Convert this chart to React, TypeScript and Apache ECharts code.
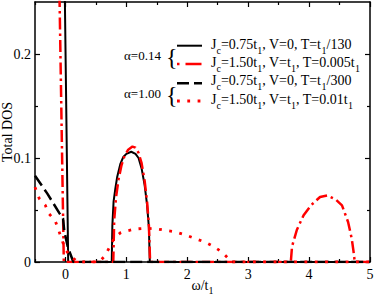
import React, { useEffect, useRef } from 'react';
import * as echarts from 'echarts';

const FONT = '"Liberation Serif", "DejaVu Serif", serif';

const xMin = -0.5;
const xMax = 5;
const yMin = 0;
const yMax = 0.25;
const xMajorTicks = [0, 1, 2, 3, 4, 5];
const xMinorTicks = [-0.5, 0.5, 1.5, 2.5, 3.5, 4.5];
const yMajorTicks = [0, 0.1, 0.2];
const yMinorTicks = [0.05, 0.15];

const alphaLabels = ['α=0.14', 'α=1.00'];
const seriesNames = [
  'Jc=0.75t1, V=0, T=t1/130',
  'Jc=1.50t1, V=t1, T=0.005t1',
  'Jc=0.75t1, V=0, T=t1/300',
  'Jc=1.50t1, V=t1, T=0.01t1',
];
const legendRichTexts = [
  '{m|J}{s|c}{m|=0.75t}{s|1}{m|, V=0, T=t}{s|1}{m|/130}',
  '{m|J}{s|c}{m|=1.50t}{s|1}{m|, V=t}{s|1}{m|, T=0.005t}{s|1}',
  '{m|J}{s|c}{m|=0.75t}{s|1}{m|, V=0, T=t}{s|1}{m|/300}',
  '{m|J}{s|c}{m|=1.50t}{s|1}{m|, V=t}{s|1}{m|, T=0.01t}{s|1}',
];

// alpha=0.14, Jc=0.75t1, V=0, T=t1/130 (black solid)
const blackSolid: number[][] = [
  [-0.02, 0.3], [0.045, 0], [0.76, 0], [0.77, 0.035], [0.79, 0.058], [0.82, 0.071],
  [0.85, 0.082], [0.9, 0.094], [0.95, 0.101], [1.0, 0.104], [1.08, 0.106],
  [1.15, 0.104], [1.2, 0.1], [1.25, 0.09], [1.3, 0.074], [1.34, 0.055],
  [1.37, 0.033], [1.385, 0], [5, 0],
];

// alpha=0.14, Jc=1.50t1, V=t1, T=0.005t1 (red dash-dot)
const redDashDot: number[][] = [
  [-0.11, 0.3], [-0.027, 0], [0.785, 0], [0.8, 0.04], [0.83, 0.062], [0.87, 0.079],
  [0.92, 0.093], [0.97, 0.102], [1.03, 0.108], [1.1, 0.111], [1.15, 0.11],
  [1.2, 0.105], [1.25, 0.095], [1.3, 0.078], [1.34, 0.058], [1.37, 0.035],
  [1.39, 0], [3.7, 0], [3.72, 0.015], [3.8, 0.031], [3.91, 0.045], [4.04, 0.055],
  [4.18, 0.0625], [4.3, 0.064], [4.44, 0.06], [4.54, 0.0545], [4.64, 0.0385],
  [4.7, 0.0225], [4.73, 0.01], [4.75, 0], [5, 0],
];

// alpha=1.00, Jc=0.75t1, V=0, T=t1/300 (black dashed)
const blackDashed: number[][] = [
  [-0.5, 0.083], [-0.3, 0.066], [-0.1, 0.047], [-0.04, 0.042], [-0.02, 0.03],
  [0.04, 0.014], [0.13, 0], [5, 0],
];

// alpha=1.00, Jc=1.50t1, V=t1, T=0.01t1 (red dotted)
const redDotted: number[][] = [
  [-0.5, 0.072], [-0.43, 0.061], [-0.33, 0.0545], [-0.28, 0.047], [-0.17, 0.04],
  [-0.115, 0.031], [-0.05, 0.02], [0.0, 0.012], [0.09, 0.005], [0.16, 0.002],
  [0.2, 0], [0.55, 0], [0.65, 0.006], [0.74, 0.016], [0.8, 0.023], [0.9, 0.028],
  [0.98, 0.0295], [1.15, 0.0318], [1.31, 0.0324], [1.48, 0.032], [1.64, 0.0305],
  [1.8, 0.029], [1.97, 0.026], [2.13, 0.0225], [2.3, 0.019], [2.43, 0.015],
  [2.57, 0.0096], [2.68, 0.003], [2.72, 0], [5, 0],
];

const seriesData = [blackSolid, redDashDot, blackDashed, redDotted];
const seriesColors = ['#000000', '#ff0000', '#000000', '#ff0000'];
const seriesDash: any[] = ['solid', [12, 4, 2.5, 4], [12, 5], [2.8, 7.5]];
const seriesWidth = [2, 2.5, 2.5, 2.8];

export default function App() {
  const ref = useRef<HTMLDivElement>(null);
  useEffect(() => {
    document.body.style.margin = '0';
    if (!ref.current) return;
    const chart = echarts.init(ref.current, null, { renderer: 'svg' });

    const axisLineStyle = { color: '#000', width: 1.5 };
    const mkX = (pos: 'bottom' | 'top', ticks: number[], len: number, main: boolean, labels: boolean): any => ({
      type: 'value',
      gridIndex: 0,
      position: pos,
      min: xMin,
      max: xMax,
      nameMoveOverlap: false,
      axisLine: { show: main, lineStyle: axisLineStyle, onZero: false },
      axisTick: { show: true, inside: true, length: len, customValues: ticks, lineStyle: { color: '#000', width: 1.2 } },
      axisLabel: labels
        ? { show: true, customValues: ticks, fontFamily: FONT, fontSize: 14, color: '#000', margin: 5 }
        : { show: false },
      splitLine: { show: false },
    });
    const mkY = (pos: 'left' | 'right', ticks: number[], len: number, main: boolean, labels: boolean): any => ({
      type: 'value',
      gridIndex: 0,
      position: pos,
      min: yMin,
      max: yMax,
      nameMoveOverlap: false,
      axisLine: { show: main, lineStyle: axisLineStyle, onZero: false },
      axisTick: { show: true, inside: true, length: len, customValues: ticks, lineStyle: { color: '#000', width: 1.2 } },
      axisLabel: labels
        ? { show: true, customValues: ticks, fontFamily: FONT, fontSize: 14, color: '#000', margin: 4 }
        : { show: false },
      splitLine: { show: false },
    });

    const xAxes = [
      {
        ...mkX('bottom', xMajorTicks, 5, true, true),
        name: '{m|ω/t}{s|1}',
        nameLocation: 'middle',
        nameGap: 13,
        nameTextStyle: {
          rich: {
            m: { fontFamily: FONT, fontSize: 14, lineHeight: 20, color: '#000' },
            s: { fontFamily: FONT, fontSize: 10, lineHeight: 10, verticalAlign: 'bottom', color: '#000' },
          },
        },
      },
      mkX('bottom', xMinorTicks, 3, false, false),
      mkX('top', xMajorTicks, 5, true, false),
      mkX('top', xMinorTicks, 3, false, false),
    ];
    const yAxes = [
      {
        ...mkY('left', yMajorTicks, 5, true, true),
        name: 'Total DOS',
        nameLocation: 'middle',
        nameGap: 21,
        nameTextStyle: { fontFamily: FONT, fontSize: 14, color: '#000' },
      },
      mkY('left', yMinorTicks, 3, false, false),
      mkY('right', yMajorTicks, 5, true, false),
      mkY('right', yMinorTicks, 3, false, false),
    ];

    const rich = {
      m: { fontFamily: FONT, fontSize: 14, lineHeight: 22, fill: '#000' },
      s: { fontFamily: FONT, fontSize: 10, lineHeight: 10, verticalAlign: 'bottom', fill: '#000' },
    };
    const rowY = [44.5, 62, 80.5, 99];
    const sampleY = [45.7, 64, 83.3, 101];
    const graphics: any[] = [];
    alphaLabels.forEach((lab, i) => {
      graphics.push({
        type: 'text',
        x: 124,
        y: i === 0 ? 55.5 : 93,
        style: { text: lab, font: `13px ${FONT}`, fill: '#000', verticalAlign: 'middle', align: 'left' },
      });
      graphics.push({
        type: 'text',
        x: 166,
        y: i === 0 ? 57 : 95,
        style: { text: '{', font: `24px ${FONT}`, fill: '#000', verticalAlign: 'middle', align: 'left' },
      });
    });
    seriesData.forEach((_, i) => {
      const dash = seriesDash[i];
      graphics.push({
        type: 'line',
        shape: { x1: 177, y1: sampleY[i], x2: 202, y2: sampleY[i] },
        style: {
          stroke: seriesColors[i],
          lineWidth: seriesWidth[i],
          lineDash: dash === 'solid' ? null : (i === 1 ? [2.5, 6, 16, 4] : dash),
        },
      });
      graphics.push({
        type: 'text',
        x: 211,
        y: rowY[i],
        style: { text: legendRichTexts[i], rich, verticalAlign: 'middle', align: 'left' },
      });
    });

    chart.setOption({
      animation: false,
      grid: { left: 35, right: 4, top: 2, bottom: 32, containLabel: false, outerBoundsMode: 'none' },
      xAxis: xAxes,
      yAxis: yAxes,
      graphic: graphics,
      series: seriesData.map((d, i) => ({
        name: seriesNames[i],
        type: 'line',
        xAxisIndex: 0,
        yAxisIndex: 0,
        data: d,
        showSymbol: false,
        symbol: 'none',
        clip: true,
        lineStyle: { color: seriesColors[i], width: seriesWidth[i], type: seriesDash[i] },
        z: 2 + i,
      })),
    });
    return () => chart.dispose();
  }, []);
  return <div ref={ref} style={{ width: 374, height: 294 }} />;
}
